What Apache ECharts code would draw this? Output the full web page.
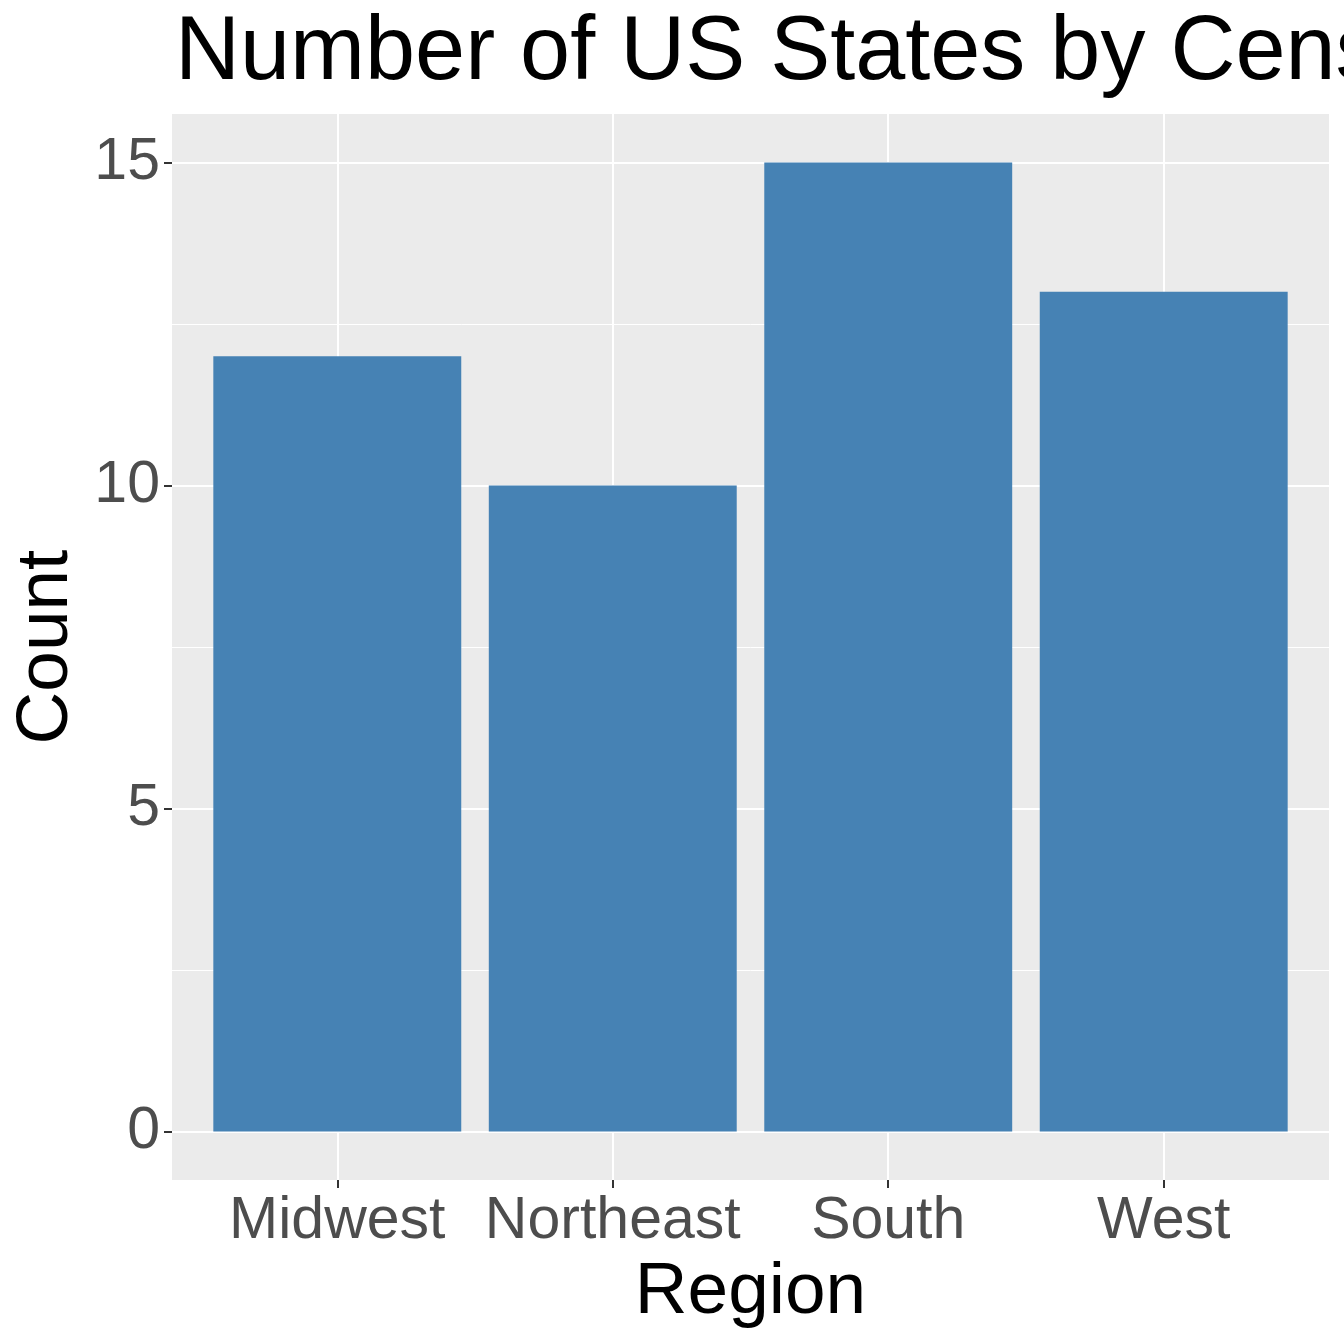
<!DOCTYPE html>
<html>
<head>
<meta charset="utf-8">
<script src="https://cdn.jsdelivr.net/npm/echarts@6/dist/echarts.min.js"></script>
<style>
  html, body { margin: 0; padding: 0; background: #fff; }
  #main { width: 1344px; height: 1344px; }
</style>
</head>
<body>
<div id="main"></div>
<script>
// data
var regions = ['Midwest', 'Northeast', 'South', 'West']
var counts = [12, 10, 15, 13]
var yTicks = [0, 5, 10, 15]
var yMinor = [2.5, 7.5, 12.5]

var chart = echarts.init(document.getElementById('main'))

var gridLeft = 172, gridRight = 1329
var gridW = gridRight - gridLeft
var xMin = 0.4, xMax = regions.length + 0.6
var barW = 0.9 * gridW / (xMax - xMin) // ggplot default width 0.9

var xPos = regions.map(function(r, i) { return i + 1 })
var font = 'Liberation Sans, Arial, sans-serif'

var option = {
  animation: false,
  backgroundColor: '#fff',
  title: {
    text: 'Number of US States by Census Region',
    left: 170,
    top: 4,
    textStyle: {
      fontFamily: font,
      fontSize: 90,
      fontWeight: 'normal',
      color: '#000'
    }
  },
  grid: {
    left: gridLeft,
    top: 114,
    width: gridW,
    height: 1066,
    outerBoundsMode: 'none',
    containLabel: false,
    show: true,
    backgroundColor: '#EBEBEB',
    borderWidth: 0
  },
  xAxis: {
    type: 'value',
    min: xMin,
    max: xMax,
    name: 'Region',
    nameLocation: 'middle',
    nameGap: 74,
    nameTextStyle: { fontFamily: font, fontSize: 73, color: '#000' },
    axisLine: { show: false, onZero: false },
    axisTick: {
      show: true,
      customValues: xPos,
      length: 8,
      lineStyle: { color: '#333', width: 2 }
    },
    axisLabel: {
      customValues: xPos,
      margin: 12,
      fontFamily: font,
      fontSize: 59,
      color: '#4D4D4D',
      formatter: function(v) { return regions[Math.round(v) - 1] }
    },
    splitLine: { show: true, lineStyle: { color: '#fff', width: 2 } }
  },
  yAxis: [
    {
      type: 'value',
      min: -0.75,
      max: 15.75,
      name: 'Count',
      nameLocation: 'middle',
      nameGap: 89,
      nameTextStyle: { fontFamily: font, fontSize: 73, color: '#000' },
      axisLine: { show: false, onZero: false },
      axisTick: {
        show: true,
        customValues: yTicks,
        length: 8,
        lineStyle: { color: '#333', width: 2 }
      },
      axisLabel: {
        customValues: yTicks,
        margin: 12,
        fontFamily: font,
        fontSize: 59,
        color: '#4D4D4D'
      },
      splitLine: { show: true, lineStyle: { color: '#fff', width: 2 } }
    },
    {
      type: 'value',
      min: -0.75,
      max: 15.75,
      position: 'left',
      axisLine: { show: false, onZero: false },
      axisTick: { show: false, customValues: yMinor },
      axisLabel: { show: false, customValues: yMinor },
      splitLine: { show: true, lineStyle: { color: '#fff', width: 1 } }
    }
  ],
  series: [
    {
      type: 'bar',
      yAxisIndex: 0,
      barWidth: barW,
      itemStyle: { color: '#4682B4' },
      data: xPos.map(function(x, i) { return [x, counts[i]] })
    }
  ]
}
chart.setOption(option)
</script>
</body>
</html>
